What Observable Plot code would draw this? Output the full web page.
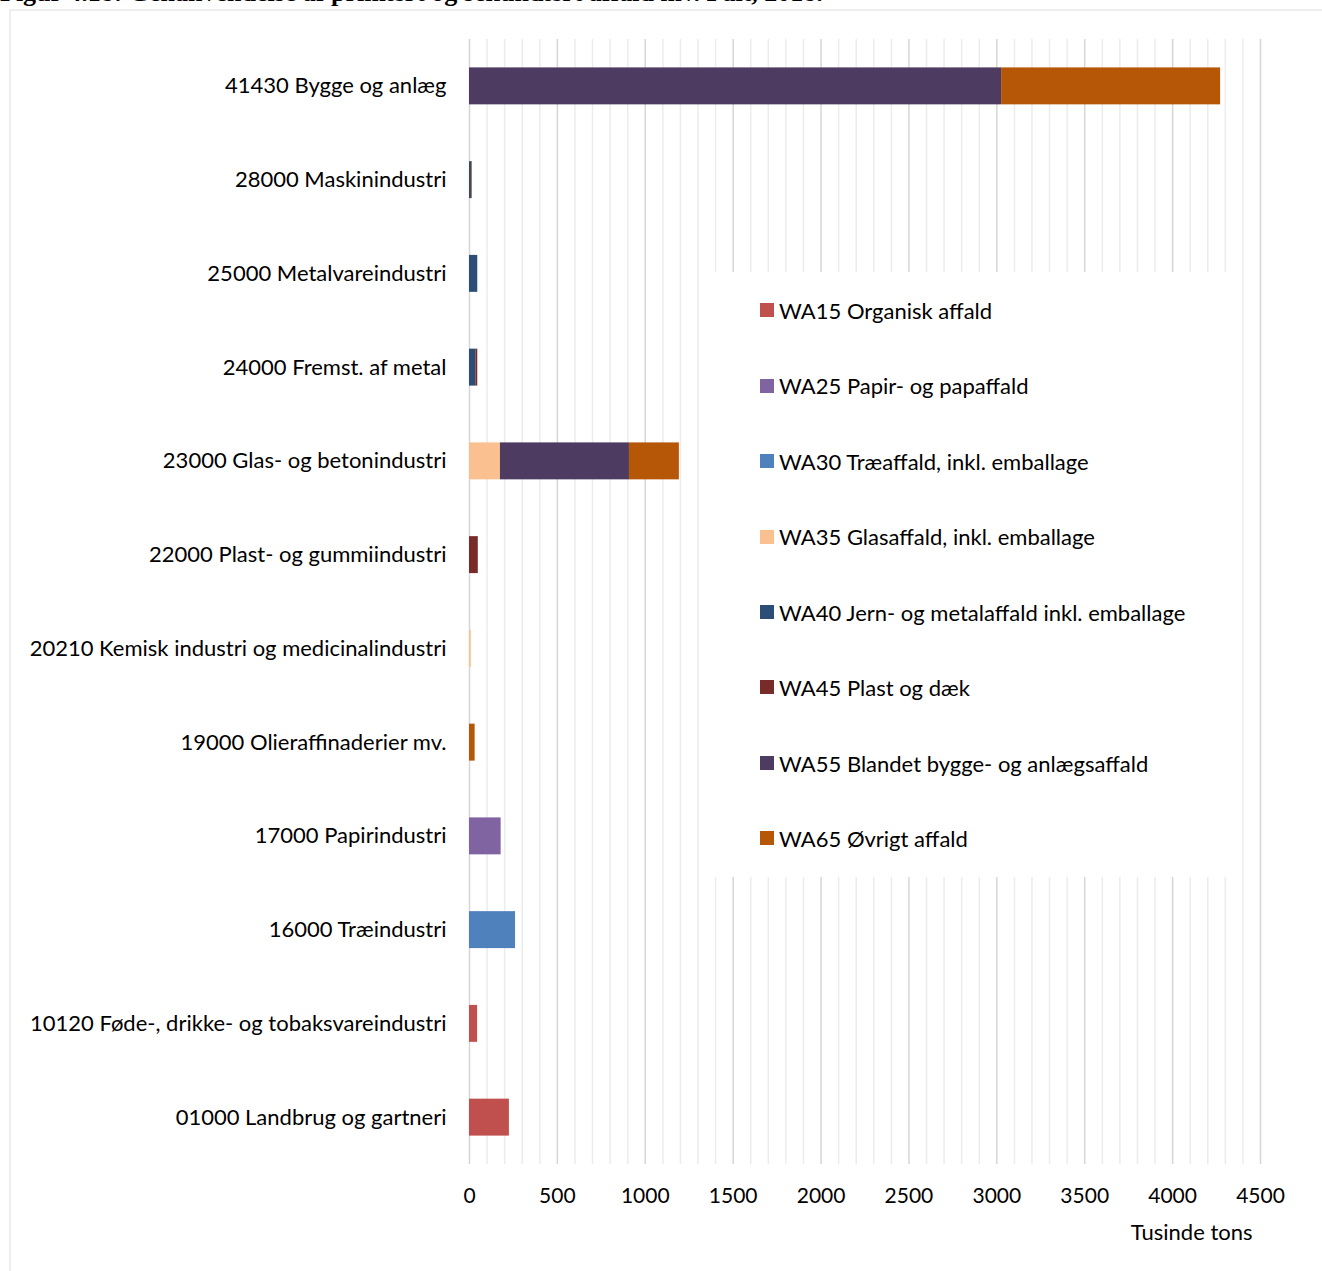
<!DOCTYPE html>
<html lang="da">
<head>
<meta charset="utf-8">
<script src="https://cdn.jsdelivr.net/npm/d3@7"></script>
<script src="https://cdn.jsdelivr.net/npm/@observablehq/plot@0.6"></script>
<style>
  html, body { margin: 0; padding: 0; background: #fff; overflow: hidden; }
  body { width: 1322px; height: 1271px; position: relative; font-family: Lato, "Open Sans", sans-serif; }
  #title {
    position: absolute; left: 0; top: -20px; margin: 0;
    font: bold 26px/26px "Liberation Serif", "DejaVu Serif", serif; color: #000; white-space: nowrap;
  }
  #frame {
    position: absolute; left: 9px; top: 9px; width: 1360px; height: 1320px;
    border: 2px solid #eeeeee; box-sizing: border-box;
  }
  #chart { position: absolute; left: 0; top: 0; }
  #legend {
    position: absolute; left: 713px; top: 272px; width: 528px; height: 605px;
    background: #fff;
  }
  #legend .item {
    position: absolute; left: 47px; height: 26px; display: flex; align-items: center;
    font-size: 22px; color: #000; white-space: nowrap; transform: translateY(-50%);
  }
  #legend .sw { width: 14px; height: 14px; margin-right: 5px; }
</style>
</head>
<body>
<div id="title">Figur 4.18: Genanvendelse af primært og sekundært affald mv. Fait, 2018.</div>
<div id="frame"></div>
<div id="chart"></div>
<div id="legend"></div>
<script>
// Branches, top to bottom
const categories = [
  "41430 Bygge og anlæg",
  "28000 Maskinindustri",
  "25000 Metalvareindustri",
  "24000 Fremst. af metal",
  "23000 Glas- og betonindustri",
  "22000 Plast- og gummiindustri",
  "20210 Kemisk industri og medicinalindustri",
  "19000 Olieraffinaderier mv.",
  "17000 Papirindustri",
  "16000 Træindustri",
  "10120 Føde-, drikke- og tobaksvareindustri",
  "01000 Landbrug og gartneri"
];

// Waste fractions (stack order) and their colours
const seriesNames = [
  "WA15 Organisk affald",
  "WA25 Papir- og papaffald",
  "WA30 Træaffald, inkl. emballage",
  "WA35 Glasaffald, inkl. emballage",
  "WA40 Jern- og metalaffald inkl. emballage",
  "WA45 Plast og dæk",
  "WA55 Blandet bygge- og anlægsaffald",
  "WA65 Øvrigt affald"
];
const seriesColors = ["#c0504d", "#8064a2", "#4f81bd", "#fac090", "#2c4d75", "#772c2a", "#4d3b62", "#b65708"];

// Tusinde tons per branch, in the order of `categories`
const wa15 = [0, 0, 0, 0, 0, 0, 0, 0, 0, 0, 46, 227];
const wa25 = [0, 0, 0, 0, 0, 0, 0, 0, 180, 0, 0, 0];
const wa30 = [0, 0, 0, 0, 0, 0, 0, 0, 0, 262, 0, 0];
const wa35 = [0, 0, 0, 0, 176, 0, 10, 0, 0, 0, 0, 0];
const wa40 = [0, 13, 47, 36, 0, 0, 0, 0, 0, 0, 0, 0];
const wa45 = [0, 0, 0, 11, 0, 50, 0, 0, 0, 0, 0, 0];
const wa55 = [3027, 0, 0, 0, 734, 0, 0, 0, 0, 0, 0, 0];
const wa65 = [1246, 4, 0, 0, 284, 0, 0, 32, 0, 0, 0, 0];

const xTicks = [0, 500, 1000, 1500, 2000, 2500, 3000, 3500, 4000, 4500];
const xMinor = d3.range(0, 4501, 100).filter(v => v % 500 !== 0);

const seriesValues = [wa15, wa25, wa30, wa35, wa40, wa45, wa55, wa65];
const rows = [];
seriesNames.forEach((s, i) => {
  categories.forEach((c, j) => {
    rows.push({category: c, series: s, value: seriesValues[i][j]});
  });
});

const chart = Plot.plot({
  width: 1322,
  height: 1271,
  marginLeft: 469,
  marginRight: 62,
  marginTop: 39,
  marginBottom: 107,
  style: {fontFamily: "Lato, 'Open Sans', sans-serif", color: "#000", background: "transparent"},
  x: {domain: [0, 4500], ticks: xTicks},
  y: {domain: categories, padding: 0, round: false},
  color: {domain: seriesNames, range: seriesColors},
  marks: [
    Plot.ruleX(xMinor, {stroke: "#ececec", strokeWidth: 1.5}),
    Plot.ruleX(xTicks, {stroke: "#d6d6d6", strokeWidth: 1.5}),
    Plot.barX(rows, Plot.stackX({
      y: "category", x: "value", fill: "series", order: seriesNames,
      insetTop: 28.4, insetBottom: 28.4
    })),
    Plot.axisY({tickSize: 0, tickPadding: 23, fontSize: 22, label: null}),
    Plot.axisX({ticks: xTicks, tickSize: 0, tickPadding: 24, fontSize: 21, label: null, tickFormat: d => String(d)}),
    Plot.text(["Tusinde tons"], {frameAnchor: "bottom-right", dx: -8, dy: 68, textAnchor: "end", fontSize: 22, lineAnchor: "middle"})
  ]
});
document.getElementById("chart").appendChild(chart);

// Legend box laid over the grid
const legend = document.getElementById("legend");
const legendTops = [38, 113.5, 189, 264.5, 340, 415, 491, 566];
seriesNames.forEach((s, i) => {
  const item = document.createElement("div");
  item.className = "item";
  item.style.top = legendTops[i] + "px";
  const sw = document.createElement("span");
  sw.className = "sw";
  sw.style.background = seriesColors[i];
  item.appendChild(sw);
  item.appendChild(document.createTextNode(s));
  legend.appendChild(item);
});
</script>
</body>
</html>
